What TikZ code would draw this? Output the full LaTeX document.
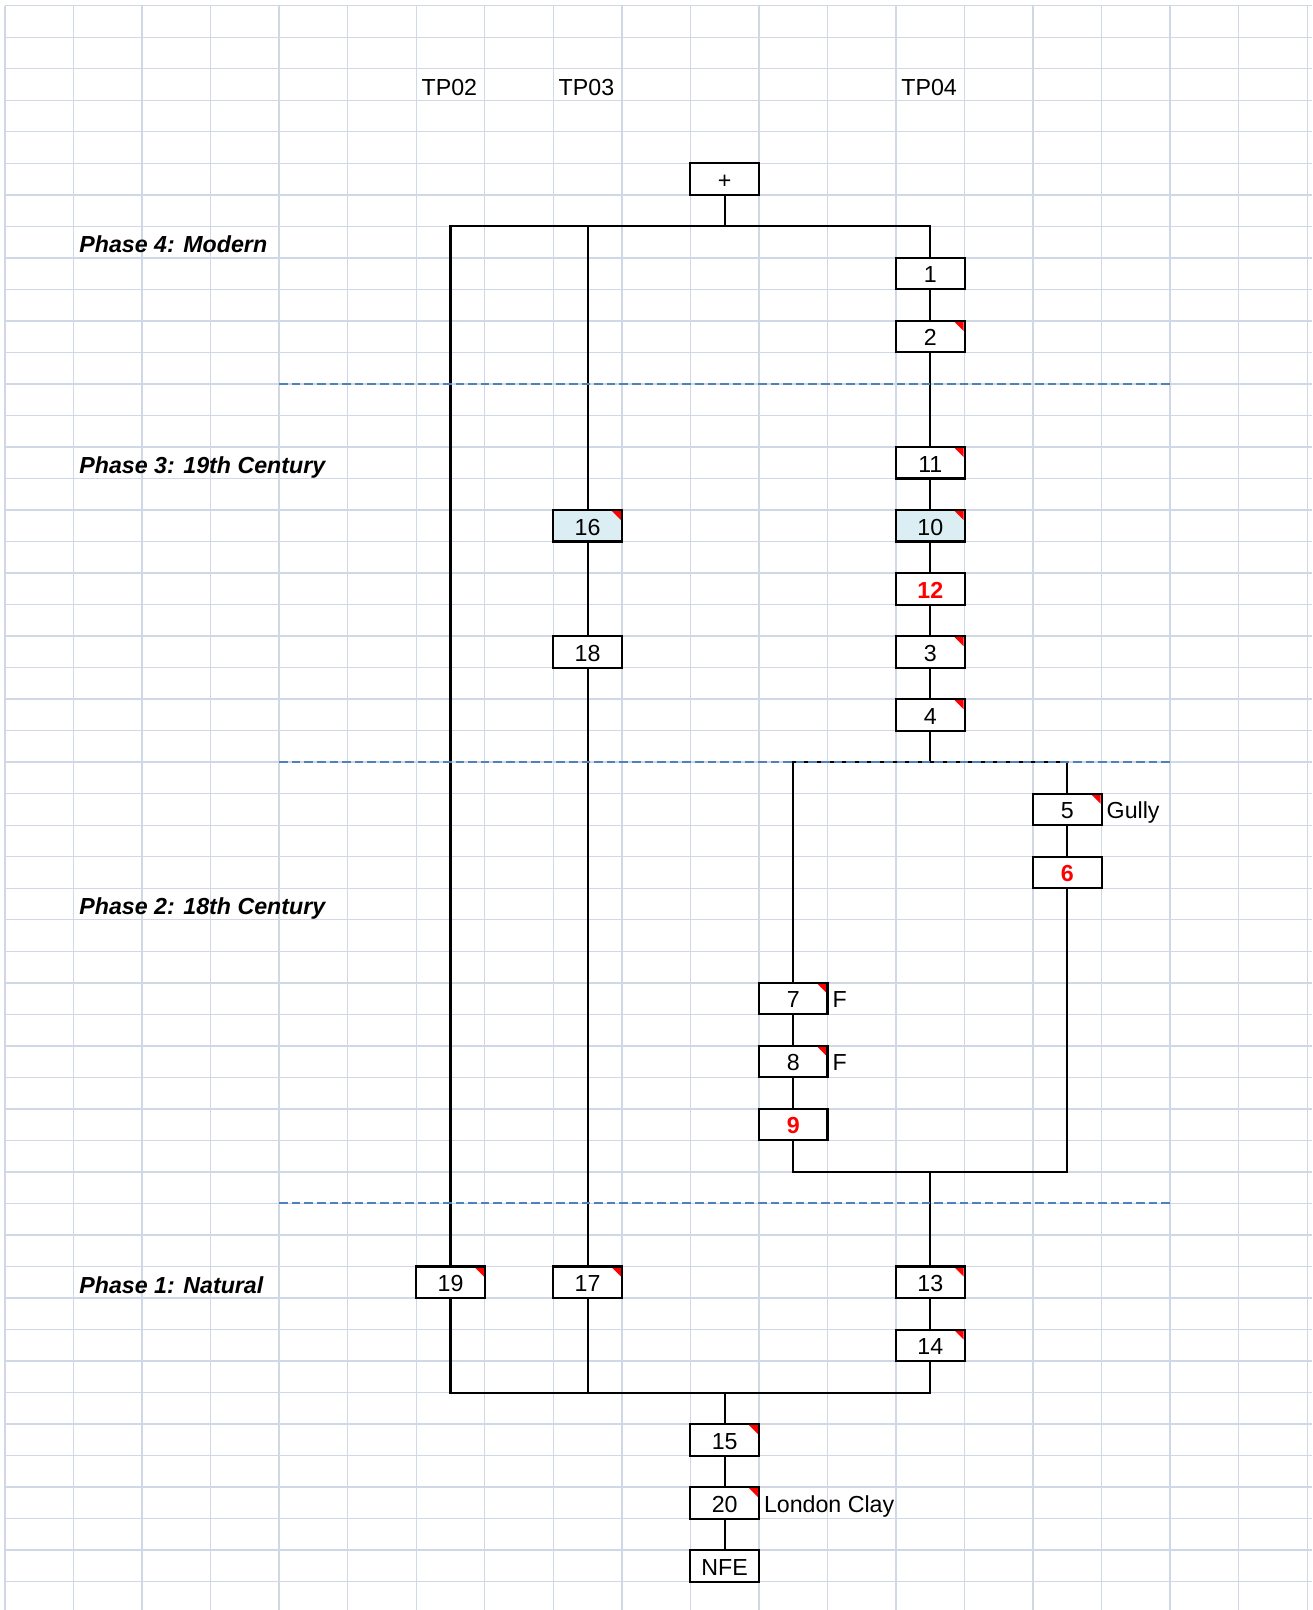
\documentclass[tikz,border=0pt]{standalone}
\usepackage{fontspec}
\setmainfont{Liberation Sans}
\definecolor{gridc}{HTML}{D0D7E5}
\definecolor{dashblue}{HTML}{4F81BD}
\definecolor{paleblue}{HTML}{DAEEF3}
\begin{document}
\begin{tikzpicture}[x=0.5pt,y=-0.5pt,
  gridline/.style={draw=gridc,line width=0.7pt},
  phase/.style={anchor=base west,inner sep=0pt,font=\fontsize{11.6}{13}\selectfont\bfseries\itshape},
  lbl/.style={anchor=base west,inner sep=0pt,font=\fontsize{11.6}{13}\selectfont},
  ctx/.style={draw=black,line width=1.05pt,fill=white,minimum width=34.27pt,minimum height=15.76pt,
    inner sep=0pt,font=\fontsize{11.6}{13}\selectfont,text height=9.3pt,text depth=0pt},
  hilite/.style={fill=paleblue},
  redbold/.style={text=red,font=\fontsize{11.6}{13}\selectfont\bfseries},
  flagged/.style={path picture={\fill[red] ([shift={(-0.5pt,-0.5pt)}]path picture bounding box.north east) -- ++(-4.5pt,0pt) -- ++(4.5pt,-4.5pt) -- cycle;}},
  link/.style={draw=black,line width=1.05pt},
  phaseline/.style={draw=dashblue,line width=1pt,dash pattern=on 4.3pt off 2pt}
]
\useasboundingbox[fill=white] (0,0) rectangle (1312,1610);
% spreadsheet grid
\foreach \k in {0,...,19} \draw[gridline] ({5+68.54*\k},5.7) -- ({5+68.54*\k},1610);
\foreach \j in {0,...,50} \draw[gridline] (5,{5.7+31.52*\j}) -- (1312,{5.7+31.52*\j});

% column headings
\node[lbl] (tp02) at (421.2,95.3) {TP02};
\node[lbl] (tp03) at (558.3,95.3) {TP03};
\node[lbl] (tp04) at (901.0,95.3) {TP04};

% phase labels
\node[phase] (ph4) at (79,252.9) {Phase 4: Modern};
\node[phase] (ph3) at (79,473.5) {Phase 3: 19th Century};
\node[phase] (ph2) at (79,914.8) {Phase 2: 18th Century};
\node[phase] (ph1) at (79,1293.0) {Phase 1: Natural};

% contexts
\node[ctx] (plus) at (724.67,179.06) {+};
\node[ctx] (n1) at (930.29,273.62) {1};
\node[ctx,flagged] (n2) at (930.29,336.66) {2};
\node[ctx,flagged] (n11) at (930.29,462.76) {11};
\node[ctx,hilite,flagged] (n16) at (587.59,525.78) {16};
\node[ctx,hilite,flagged] (n10) at (930.29,525.78) {10};
\node[ctx,redbold] (n12) at (930.29,588.82) {12};
\node[ctx] (n18) at (587.59,651.86) {18};
\node[ctx,flagged] (n3) at (930.29,651.86) {3};
\node[ctx,flagged] (n4) at (930.29,714.90) {4};
\node[ctx,flagged] (n5) at (1067.37,809.46) {5};
\node[ctx,redbold] (n6) at (1067.37,872.50) {6};
\node[ctx,flagged] (n7) at (793.21,998.58) {7};
\node[ctx,flagged] (n8) at (793.21,1061.62) {8};
\node[ctx,redbold] (n9) at (793.21,1124.66) {9};
\node[ctx,flagged] (n19) at (450.51,1282.26) {19};
\node[ctx,flagged] (n17) at (587.59,1282.26) {17};
\node[ctx,flagged] (n13) at (930.29,1282.26) {13};
\node[ctx,flagged] (n14) at (930.29,1345.30) {14};
\node[ctx,flagged] (n15) at (724.67,1439.86) {15};
\node[ctx,flagged] (n20) at (724.67,1502.94) {20};
\node[ctx] (nfe) at (724.67,1565.98) {NFE};

% side labels
\node[lbl] (gully) at ([xshift=1.8pt]n5.base east) {Gully};
\node[lbl] (f7) at ([xshift=1.8pt]n7.base east) {F};
\node[lbl] (f8) at ([xshift=1.8pt]n8.base east) {F};
\node[lbl] (clay) at ([xshift=1.8pt]n20.base east) {London Clay};

% junction levels
\coordinate (topbar) at (0,226.34);
\coordinate (midbar) at (0,762.18);
\coordinate (lowbar) at (0,1171.94);
\coordinate (botbar) at (0,1392.58);

% connectors
\draw[link] (plus.south) -- (plus.south |- topbar);
\draw[link] (n19.north) |- (n1.north |- topbar) -- (n1.north);
\draw[link] (n16.north) -- (n16.north |- topbar);
\draw[link] (n1) -- (n2);
\draw[link] (n2) -- (n11);
\draw[link] (n11) -- (n10);
\draw[link] (n10) -- (n12);
\draw[link] (n12) -- (n3);
\draw[link] (n3) -- (n4);
\draw[link] (n16) -- (n18);
\draw[link] (n18) -- (n17);
\draw[link] (n4.south) -- (n4.south |- midbar);
\draw[link] (n7.north) |- (n5.north |- midbar) -- (n5.north);
\draw[link] (n5) -- (n6);
\draw[link] (n7) -- (n8);
\draw[link] (n8) -- (n9);
\draw[link] (n6.south) |- (n9.south |- lowbar) -- (n9.south);
\draw[link] (n13.north) -- (n13.north |- lowbar);
\draw[link] (n13) -- (n14);
\draw[link] (n19.south) |- (n14.south |- botbar) -- (n14.south);
\draw[link] (n17.south) -- (n17.south |- botbar);
\draw[link] (n15.north) -- (n15.north |- botbar);
\draw[link] (n15) -- (n20);
\draw[link] (n20) -- (nfe);

% phase boundaries
\draw[phaseline] (279.16,383.94) -- (1170.18,383.94);
\draw[phaseline] (279.16,762.18) -- (1170.18,762.18);
\draw[phaseline] (279.16,1203.46) -- (1170.18,1203.46);
\end{tikzpicture}
\end{document}
